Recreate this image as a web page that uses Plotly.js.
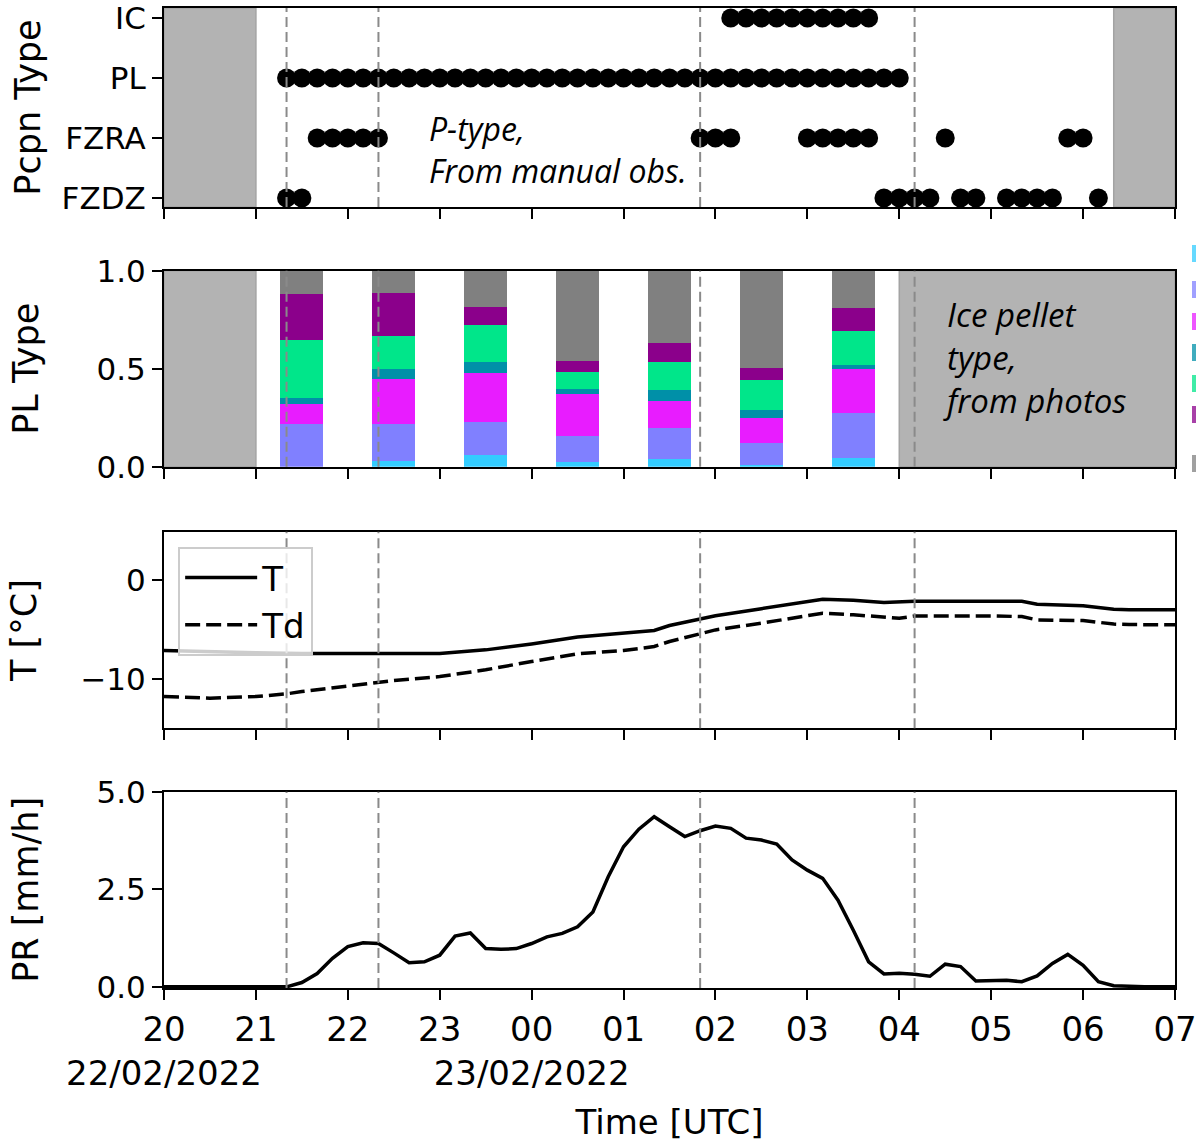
<!DOCTYPE html>
<html>
<head>
<meta charset="utf-8">
<script src="https://cdn.plot.ly/plotly-3.0.1.min.js"></script>
<style>
  html, body { margin: 0; padding: 0; background: #ffffff; }
  #chart { width: 1196px; height: 1143px; }
</style>
</head>
<body>
<div id="chart"></div>
<script>
// ---------- data ----------
// Clock times are UTC; hours >= 12 fall on 22/02/2022, the rest on 23/02/2022.
var timeStart = '20:00';
var timeEnd = '07:00';

// Axis ticks along time
var hourTicks = ['20', '21', '22', '23', '00', '01', '02', '03', '04', '05', '06', '07'];
var dateUnderHour = { '20': '22/02/2022', '00': '23/02/2022' };

// Dashed reference times drawn across all panels
var markerTimes = ['21:20', '22:20', '01:50', '04:10'];

// Panel 1: manual precipitation-type observations (runs of 10-min reports)
var ptypeCats = ['FZDZ', 'FZRA', 'PL', 'IC'];
var icRuns = [['02:10', '03:40']];
var plRuns = [['21:20', '04:00']];
var fzraRuns = [['21:40', '22:20'], ['01:50', '02:10'], ['03:00', '03:40'], ['04:30', '04:30'], ['05:50', '06:00']];
var fzdzRuns = [['21:20', '21:30'], ['03:50', '04:20'], ['04:40', '04:50'], ['05:10', '05:40'], ['06:10', '06:10']];
var manualGaps = [['20:00', '21:00'], ['06:20', '07:00']];

// Panel 2: ice pellet type fractions from photos (hourly, stacked bottom to top)
var photoTimes = ['21:30', '22:30', '23:30', '00:30', '01:30', '02:30', '03:30'];
var plType1 = [0.000, 0.030, 0.060, 0.025, 0.040, 0.010, 0.045];
var plType2 = [0.220, 0.190, 0.170, 0.135, 0.160, 0.110, 0.230];
var plType3 = [0.100, 0.230, 0.250, 0.210, 0.135, 0.130, 0.225];
var plType4 = [0.030, 0.050, 0.055, 0.027, 0.060, 0.043, 0.022];
var plType5 = [0.300, 0.170, 0.190, 0.087, 0.140, 0.153, 0.170];
var plType6 = [0.235, 0.220, 0.090, 0.056, 0.098, 0.060, 0.120];
var plType7 = [0.115, 0.110, 0.185, 0.460, 0.367, 0.494, 0.188];
var photoGaps = [['20:00', '21:00'], ['04:00', '07:00']];

// Panel 3: temperature and dew point
var tTimes = ['20:00', '20:30', '21:00', '21:30', '22:00', '22:30', '23:00', '23:30', '00:00', '00:30',
              '01:00', '01:20', '01:30', '02:00', '02:30', '03:00', '03:10', '03:30', '03:50', '04:10',
              '04:30', '05:00', '05:20', '05:30', '06:00', '06:20', '06:30', '07:00'];
var tValues = [-7.12, -7.25, -7.35, -7.42, -7.42, -7.40, -7.42, -7.05, -6.45, -5.75,
               -5.37, -5.10, -4.60, -3.62, -2.90, -2.20, -1.95, -2.05, -2.28, -2.15,
               -2.15, -2.10, -2.15, -2.45, -2.60, -2.95, -3.00, -3.00];
var tdTimes = ['20:00', '20:30', '21:00', '21:20', '21:30', '22:00', '22:30', '23:00', '23:30', '00:00',
               '00:30', '01:00', '01:20', '01:30', '02:00', '02:30', '03:00', '03:10', '03:30', '04:00',
               '04:10', '04:30', '05:00', '05:20', '05:30', '06:00', '06:20', '06:30', '07:00'];
var tdValues = [-11.75, -11.92, -11.75, -11.48, -11.25, -10.67, -10.14, -9.74, -9.06, -8.22,
                -7.45, -7.12, -6.71, -6.21, -5.04, -4.36, -3.55, -3.36, -3.52, -3.86,
                -3.65, -3.63, -3.63, -3.70, -4.03, -4.10, -4.45, -4.50, -4.53];

// Panel 4: precipitation rate, 10-min values from 20:00 to 07:00
var prValues = [0, 0, 0, 0, 0, 0, 0, 0, 0, 0.11,
                0.34, 0.73, 1.03, 1.13, 1.11, 0.87, 0.62, 0.64, 0.81, 1.30,
                1.38, 0.98, 0.96, 0.98, 1.11, 1.28, 1.37, 1.54, 1.92, 2.82,
                3.59, 4.04, 4.36, 4.10, 3.85, 4.00, 4.12, 4.06, 3.81, 3.76,
                3.66, 3.25, 2.99, 2.78, 2.22, 1.45, 0.64, 0.33, 0.35, 0.32,
                0.27, 0.58, 0.52, 0.15, 0.15, 0.17, 0.13, 0.28, 0.60, 0.83,
                0.55, 0.13, 0.03, 0.01, 0, 0, 0];

// ---------- helpers ----------
function toMin(hm) {
  var h = +hm.slice(0, 2), m = +hm.slice(3, 5);
  return (h >= 12 ? h : h + 24) * 60 + m;
}
function pad(n) { return (n < 10 ? '0' : '') + n; }
function fromMin(t) {
  var day = t >= 1440 ? '2022-02-23 ' : '2022-02-22 ';
  return day + pad(Math.floor(t / 60) % 24) + ':' + pad(t % 60);
}
function stamp(hm) { return fromMin(toMin(hm)); }
function expandRuns(runs) {
  var out = [];
  runs.forEach(function (r) {
    for (var t = toMin(r[0]); t <= toMin(r[1]); t += 10) out.push(fromMin(t));
  });
  return out;
}

// ---------- styling ----------
var FONT = 'DejaVu Sans, sans-serif';
var TICK_SIZE = 31;
var XTICK_SIZE = 34;
var TITLE_SIZE = 35;
var xRange = [stamp(timeStart), stamp(timeEnd)];
var tickVals = hourTicks.map(function (h) { return stamp(h + ':00'); });
var tickText = hourTicks.map(function (h) {
  return dateUnderHour[h] ? h + '<br>' + dateUnderHour[h] : h;
});

var plColors = ['#33ccff', '#8080ff', '#e81cff', '#0090a8', '#00e68a', '#8b008b', '#808080'];
var plSeries = [plType1, plType2, plType3, plType4, plType5, plType6, plType7];

// ---------- traces ----------
var traces = [];

function dotTrace(runs, cat) {
  var xs = expandRuns(runs);
  return {
    type: 'scatter', mode: 'markers', x: xs,
    y: xs.map(function () { return cat; }),
    xaxis: 'x', yaxis: 'y', showlegend: false, cliponaxis: false,
    marker: { color: '#000000', size: 19 }, hoverinfo: 'x+y'
  };
}
traces.push(dotTrace(icRuns, 'IC'));
traces.push(dotTrace(plRuns, 'PL'));
traces.push(dotTrace(fzraRuns, 'FZRA'));
traces.push(dotTrace(fzdzRuns, 'FZDZ'));

var photoX = photoTimes.map(stamp);
plSeries.forEach(function (vals, i) {
  traces.push({
    type: 'bar', x: photoX, y: vals, width: 28 * 60 * 1000,
    xaxis: 'x2', yaxis: 'y2', showlegend: false,
    marker: { color: plColors[i], line: { width: 0 } }
  });
});

traces.push({
  type: 'scatter', mode: 'lines', name: 'T',
  x: tTimes.map(stamp), y: tValues, xaxis: 'x3', yaxis: 'y3',
  line: { color: '#000000', width: 3.5 }
});
traces.push({
  type: 'scatter', mode: 'lines', name: 'Td',
  x: tdTimes.map(stamp), y: tdValues, xaxis: 'x3', yaxis: 'y3',
  line: { color: '#000000', width: 3.5, dash: '15px,6px' }
});

traces.push({
  type: 'scatter', mode: 'lines', showlegend: false,
  x: expandRuns([[timeStart, timeEnd]]), y: prValues, xaxis: 'x4', yaxis: 'y4',
  line: { color: '#000000', width: 3.5 }
});

// ---------- axes ----------
function xAxis(anchor, showLabels, extra) {
  var a = {
    type: 'date', range: xRange, anchor: anchor,
    showline: true, linecolor: '#000000', linewidth: 2, mirror: true,
    ticks: 'outside', ticklen: 10, tickwidth: 2, tickcolor: '#000000',
    tickmode: 'array', tickvals: tickVals, ticktext: tickText, tickangle: 0,
    ticklabeloverflow: 'allow',
    showticklabels: showLabels, showgrid: false, zeroline: false,
    tickfont: { family: FONT, size: XTICK_SIZE, color: '#000000' }
  };
  if (anchor !== 'y4') a.matches = 'x4';
  for (var k in extra) a[k] = extra[k];
  return a;
}
function yAxis(domain, anchor, title, standoff, extra) {
  var a = {
    domain: domain, anchor: anchor,
    showline: true, linecolor: '#000000', linewidth: 2, mirror: true,
    ticks: 'outside', ticklen: 10, tickwidth: 2, tickcolor: '#000000',
    showgrid: false, zeroline: false,
    tickfont: { family: FONT, size: TICK_SIZE, color: '#000000' },
    title: { text: title, standoff: standoff, font: { family: FONT, size: TITLE_SIZE, color: '#000000' } }
  };
  for (var k in extra) a[k] = extra[k];
  return a;
}

// ---------- shapes ----------
var shapes = [];
function addGaps(gaps, xref, yref) {
  gaps.forEach(function (g) {
    shapes.push({
      type: 'rect', xref: xref, yref: yref,
      x0: stamp(g[0]), x1: stamp(g[1]), y0: 0, y1: 1,
      fillcolor: '#b3b3b3', line: { color: '#a3a3a3', width: 1.5 }, layer: 'below'
    });
  });
}
addGaps(manualGaps, 'x', 'y domain');
addGaps(photoGaps, 'x2', 'y2 domain');

[['x', 'y domain'], ['x2', 'y2 domain'], ['x3', 'y3 domain'], ['x4', 'y4 domain']].forEach(function (ref) {
  markerTimes.forEach(function (t) {
    shapes.push({
      type: 'line', xref: ref[0], yref: ref[1],
      x0: stamp(t), x1: stamp(t), y0: 0, y1: 1,
      line: { color: '#8a8a8a', width: 2, dash: '10px,5px' }, layer: 'above'
    });
  });
});

// colour keys of the photo classes at the right edge
var keyTops = [245, 281, 313, 344, 375, 406, 455];
plColors.forEach(function (c, i) {
  shapes.push({
    type: 'rect', xref: 'paper', yref: 'paper',
    x0: (1192 - 164) / 1011, x1: (1199 - 164) / 1011,
    y0: (988 - keyTops[i] - 17) / 980, y1: (988 - keyTops[i]) / 980,
    fillcolor: c, opacity: 0.75, line: { width: 0 }, layer: 'above'
  });
});

// ---------- annotations ----------
var NOTE_FAMILY = 'Open Sans, sans-serif';
var annotations = [
  {
    xref: 'x', yref: 'y domain', x: stamp('22:52'), y: 0.515, xanchor: 'left', yanchor: 'top',
    text: '<i>P-type,<br>From manual obs.</i>', align: 'left', showarrow: false,
    font: { family: NOTE_FAMILY, size: 32, color: '#000000' }
  },
  {
    xref: 'x2', yref: 'y2 domain', x: stamp('04:27'), y: 0.9, xanchor: 'left', yanchor: 'top',
    text: '<i>Ice pellet<br>type,<br>from photos</i>', align: 'left', showarrow: false,
    font: { family: NOTE_FAMILY, size: 33, color: '#000000' }
  }
];

var layout = {
  width: 1196, height: 1143,
  margin: { l: 164, r: 21, t: 8, b: 155, pad: 0 },
  paper_bgcolor: '#ffffff', plot_bgcolor: '#ffffff',
  font: { family: FONT, size: TICK_SIZE, color: '#000000' },
  barmode: 'stack', bargap: 0,
  showlegend: true,
  legend: {
    x: 0.014, y: 0.450, xanchor: 'left', yanchor: 'top', traceorder: 'normal',
    bgcolor: 'rgba(255,255,255,0.8)', bordercolor: '#cccccc', borderwidth: 2,
    font: { family: FONT, size: 34, color: '#000000' }, itemwidth: 72, tracegroupgap: 0
  },
  xaxis: xAxis('y', false),
  xaxis2: xAxis('y2', false),
  xaxis3: xAxis('y3', false),
  xaxis4: xAxis('y4', true, {
    title: { text: 'Time [UTC]', standoff: 18, font: { family: FONT, size: 34, color: '#000000' } }
  }),
  yaxis: yAxis([0.7969, 1.0], 'x', 'Pcpn Type', 10, {
    type: 'category', categoryorder: 'array', categoryarray: ptypeCats, range: [-0.15, 3.167]
  }),
  yaxis2: yAxis([0.5319, 0.7319], 'x2', 'PL Type', 47, {
    range: [0, 1], tickmode: 'array', tickvals: [0, 0.5, 1], tickformat: '.1f'
  }),
  yaxis3: yAxis([0.2650, 0.4656], 'x3', 'T [°C]', 33, {
    range: [-14.95, 4.85], tickmode: 'array', tickvals: [-10, 0]
  }),
  yaxis4: yAxis([0, 0.2003], 'x4', 'PR [mm/h]', 47, {
    range: [-0.03, 5.0], tickmode: 'array', tickvals: [0, 2.5, 5], tickformat: '.1f'
  }),
  shapes: shapes,
  annotations: annotations
};

Plotly.newPlot('chart', traces, layout, { displayModeBar: false, responsive: false });
</script>
</body>
</html>
